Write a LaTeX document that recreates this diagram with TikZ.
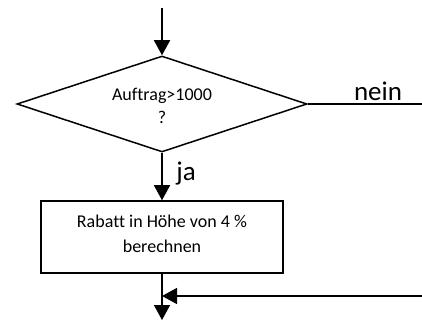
\documentclass[tikz,border=0pt]{standalone}
\usepackage{fontspec}
\setmainfont[Ligatures=CommonOff]{Carlito}
\usetikzlibrary{shapes.geometric,arrows.meta}
\begin{document}
\begin{tikzpicture}[x=1pt,y=-1pt,
  line/.style={line width=1.5pt},
  arr/.style={line, -{Triangle[length=15pt,width=16pt]}},
  small/.style={font=\fontsize{18}{21.5}\selectfont, align=center, inner sep=0pt},
  big/.style={font=\fontsize{27}{30}\selectfont, inner sep=0pt, anchor=base}]
\useasboundingbox[fill=white] (0,0) rectangle (422,320);
\coordinate (start) at (162,8);
\node[draw, line, diamond, aspect=3.02, minimum width=290pt, minimum height=96pt, inner sep=0pt] (dec) at (162,104) {};
\node[small] (dectxt) at (162,106) {Auftrag>1000\\[2pt]?};
\node[draw, line, rectangle, minimum width=242pt, minimum height=72pt, inner sep=0pt] (box) at (162,237) {};
\node[small] (boxtxt) at (162,234) {Rabatt in Höhe von 4 \%\\[3pt]berechnen};
\coordinate (nend) at (422,104);
\coordinate (merge) at (162,296);
\coordinate (mergesrc) at (422,296);
\coordinate (out) at (162,320);
\draw[arr] (start) -- (dec.north);
\draw[line] (dec.east) -- (nend);
\draw[arr] (dec.south) -- (box.north);
\draw[arr] (box.south) -- (out);
\draw[arr] (mergesrc) -- (merge);
\node[big] (nein) at (378,101) {nein};
\node[big] (ja) at (186,181) {ja};
\end{tikzpicture}
\end{document}
